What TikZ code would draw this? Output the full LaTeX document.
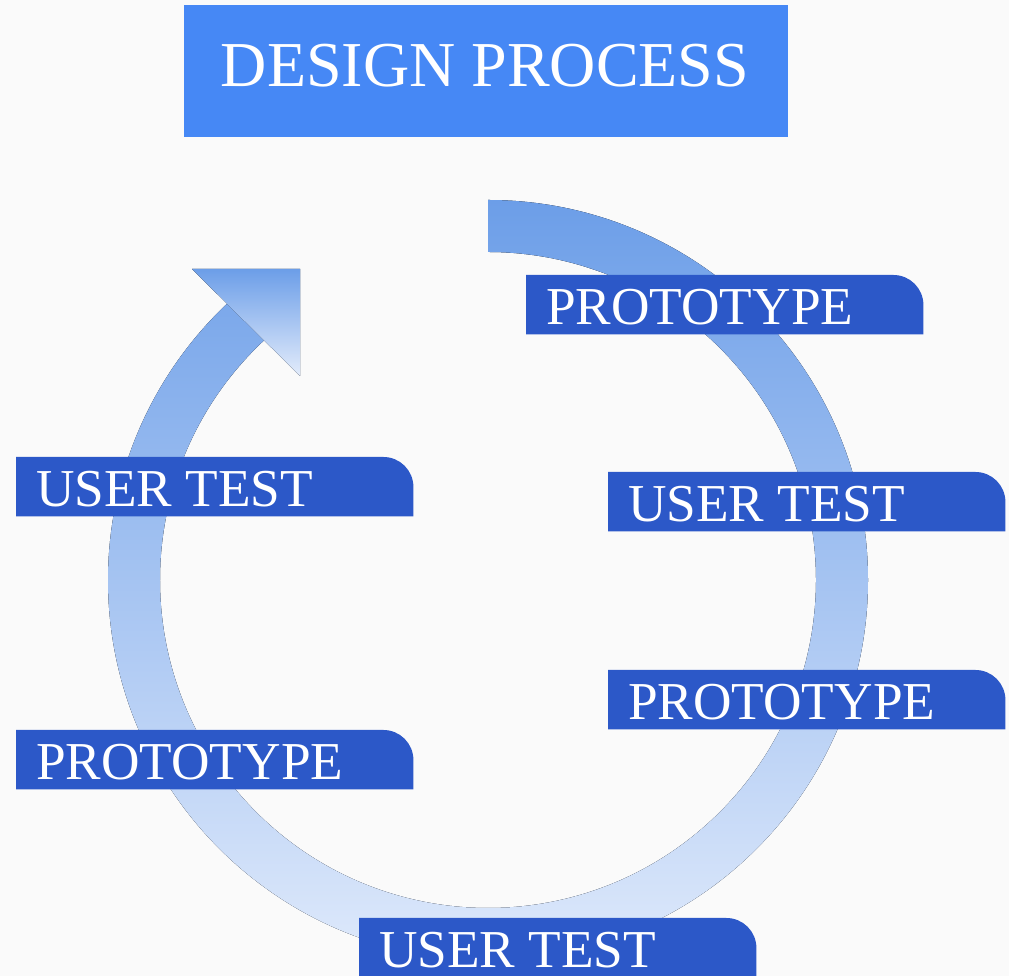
\documentclass[tikz,border=0pt]{standalone}
\usepackage{fontspec}
\setmainfont{Liberation Serif}
\definecolor{bgc}{HTML}{FAFAFA}
\definecolor{titlec}{HTML}{4688F5}
\definecolor{labc}{HTML}{2C58C8}
\definecolor{ringtop}{HTML}{6C9EE8}
\definecolor{ringmid}{HTML}{BED4F5}
\definecolor{ringbot}{HTML}{DEE9FB}
\definecolor{arrtop}{HTML}{6C9EE8}
\definecolor{arrbot}{HTML}{E3ECFB}
\tikzset{
  labbox/.style={anchor=north west, minimum width=397pt, minimum height=59pt, inner sep=0pt, draw=none},
  labfill/.style={fill=labc},
  labtext/.style={text=white, inner sep=0pt, font=\fontsize{53.3}{60}\selectfont},
  titlebox/.style={fill=titlec, minimum width=604pt, minimum height=132pt, inner sep=0pt},
  titletext/.style={text=white, inner sep=0pt, font=\fontsize{64}{70}\selectfont},
  ringshade/.style={top color=ringtop, middle color=ringmid, bottom color=ringbot},
  arrowshade/.style={top color=arrtop, bottom color=arrbot},
}
\newcommand\labelbox[4]{%
  \node[labbox] (#1) at (#2,976-#3) {};
  \fill[labfill] (#1.south west) -- (#1.north west) -- ([xshift=-30pt]#1.north east)
     arc[start angle=90, end angle=0, radius=30pt] -- (#1.south east) -- cycle;
  \node[labtext, anchor=base west] (#1-t) at ([shift={(20pt,-50pt)}]#1.north west) {#4};
}
\begin{document}
\begin{tikzpicture}[x=1pt,y=1pt]
\useasboundingbox (0,0) rectangle (1009,976);
\fill[bgc] (0,0) rectangle (1009,976);
% title
\node[titlebox] (title) at (486,905) {};
\node[titletext, anchor=base] (title-t) at (485,976-87) {DESIGN PROCESS};
% ring
\coordinate (c) at (488,396);
\fill[ringmid] ([shift={(90:380)}]c) arc[start angle=90, end angle=-227, radius=380]
  -- ([shift={(-227:328)}]c) arc[start angle=-227, end angle=90, radius=328] -- cycle;
\fill[ringshade] ([shift={(90:380)}]c) arc[start angle=90, end angle=-227, radius=380]
  -- ([shift={(-227:328)}]c) arc[start angle=-227, end angle=90, radius=328] -- cycle;
% arrow head
\coordinate (a1) at (192,707);
\coordinate (a2) at (300,707);
\coordinate (a3) at (300,600);
\fill[arrtop!50!arrbot] (a1) -- (a2) -- (a3) -- cycle;
\fill[arrowshade] (a1) -- (a2) -- (a3) -- cycle;
% labels
\labelbox{p1}{526}{275}{PROTOTYPE}
\labelbox{u1}{608}{472}{USER TEST}
\labelbox{p2}{608}{670}{PROTOTYPE}
\labelbox{u2}{359}{918}{USER TEST}
\labelbox{p3}{16}{730}{PROTOTYPE}
\labelbox{u3}{16}{457}{USER TEST}
\end{tikzpicture}
\end{document}
